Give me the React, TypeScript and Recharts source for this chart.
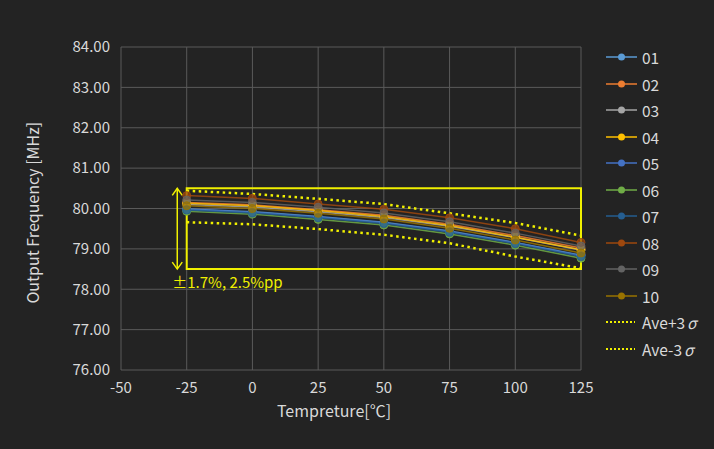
import { LineChart, Line, XAxis, YAxis, CartesianGrid, ReferenceArea, ReferenceLine } from "recharts";

// temperature points [°C]
const temps = [-25, 0, 25, 50, 75, 100, 125];

// output frequency per sample [MHz]
const s01 = [79.99, 79.92, 79.8, 79.66, 79.44, 79.16, 78.84];
const s02 = [80.15, 80.09, 79.97, 79.83, 79.61, 79.33, 79.02];
const s03 = [80.1, 80.04, 79.92, 79.78, 79.56, 79.28, 78.97];
const s04 = [80.13, 80.07, 79.95, 79.8, 79.58, 79.29, 78.98];
const s05 = [79.98, 79.91, 79.79, 79.65, 79.43, 79.15, 78.83];
const s06 = [79.93, 79.86, 79.73, 79.59, 79.37, 79.09, 78.77];
const s07 = [79.96, 79.89, 79.77, 79.63, 79.41, 79.13, 78.81];
const s08 = [80.32, 80.25, 80.11, 79.98, 79.77, 79.5, 79.16];
const s09 = [80.21, 80.15, 80.03, 79.89, 79.67, 79.39, 79.07];
const s10 = [80.07, 80.0, 79.88, 79.74, 79.51, 79.22, 78.9];
const avePlus3s = [80.44, 80.36, 80.24, 80.11, 79.88, 79.64, 79.33];
const aveMinus3s = [79.66, 79.61, 79.49, 79.35, 79.14, 78.81, 78.52];

const xTicks = [-50, -25, 0, 25, 50, 75, 100, 125];
const yTicks = [76, 77, 78, 79, 80, 81, 82, 83, 84];

const samples = [
  { key: "01", values: s01, color: "#5B9BD5" },
  { key: "02", values: s02, color: "#ED7D31" },
  { key: "03", values: s03, color: "#A5A5A5" },
  { key: "04", values: s04, color: "#FFC000" },
  { key: "05", values: s05, color: "#4472C4" },
  { key: "06", values: s06, color: "#70AD47" },
  { key: "07", values: s07, color: "#255E91" },
  { key: "08", values: s08, color: "#9E480E" },
  { key: "09", values: s09, color: "#636363" },
  { key: "10", values: s10, color: "#997300" },
];

const YELLOW = "#f0f000";
const TEXT = "#d9d9d9";

const data = temps.map((t, i) => {
  const row: Record<string, number> = { t, up: avePlus3s[i], low: aveMinus3s[i] };
  samples.forEach((s) => (row[s.key] = s.values[i]));
  return row;
});

// double-headed arrow + spread label
const SpreadArrow = (props: any) => {
  const { x1, y1, y2 } = props;
  const top = Math.min(y1, y2);
  const bottom = Math.max(y1, y2);
  return (
    <g>
      <line x1={x1} y1={top} x2={x1} y2={bottom} stroke={YELLOW} strokeWidth={1.5} />
      <polyline points={`${x1 - 5},${top + 7} ${x1},${top} ${x1 + 5},${top + 7}`} fill="none" stroke={YELLOW} strokeWidth={1.5} />
      <polyline points={`${x1 - 5},${bottom - 7} ${x1},${bottom} ${x1 + 5},${bottom - 7}`} fill="none" stroke={YELLOW} strokeWidth={1.5} />
      <text x={x1 - 5} y={bottom + 19} fill={YELLOW} fontSize={15}>
        ±1.7%, 2.5%pp
      </text>
    </g>
  );
};

export default function App() {
  return (
    <div
      style={{
        position: "absolute",
        left: 0,
        top: 0,
        width: 714,
        height: 449,
        background: "#232323",
        fontFamily: "'Noto Sans CJK JP', 'Noto Sans', sans-serif",
      }}
    >
      <LineChart width={714} height={449} data={data} margin={{ top: 47, right: 133, bottom: 49, left: 0 }}>
        <CartesianGrid stroke="#5a5a5a" strokeWidth={1} />
        <XAxis
          dataKey="t"
          type="number"
          domain={[-50, 125]}
          ticks={xTicks}
          axisLine={false}
          tickLine={false}
          height={30}
          tick={{ fill: TEXT, fontSize: 15 }}
          tickMargin={6}
          label={{ value: "Tempreture[℃]", position: "insideBottom", offset: -17, fill: TEXT, fontSize: 16, dx: -17 }}
        />
        <YAxis
          type="number"
          domain={[76, 84]}
          ticks={yTicks}
          width={121}
          axisLine={false}
          tickLine={false}
          tick={{ fill: TEXT, fontSize: 15 }}
          tickMargin={5}
          tickFormatter={(v: number) => v.toFixed(2)}
          label={{ value: "Output Frequency [MHz]", angle: -90, position: "insideLeft", offset: 33, fill: TEXT, fontSize: 16, dy: 95 }}
        />
        <ReferenceArea
          x1={-25}
          x2={125}
          y1={78.5}
          y2={80.5}
          stroke={YELLOW}
          strokeWidth={2}
          fill="none"
          fillOpacity={0}
          ifOverflow="visible"
        />
        <ReferenceLine
          segment={[
            { x: -28.6, y: 80.5 },
            { x: -28.6, y: 78.5 },
          ]}
          ifOverflow="visible"
          shape={SpreadArrow}
        />
        {samples.map((s) => (
          <Line
            key={s.key}
            dataKey={s.key}
            stroke={s.color}
            strokeWidth={1.5}
            strokeOpacity={0.85}
            dot={{ r: 4, fill: s.color, stroke: s.color, strokeWidth: 1, fillOpacity: 0.75 }}
            isAnimationActive={false}
          />
        ))}
        <Line dataKey="up" stroke={YELLOW} strokeWidth={2.5} strokeDasharray="2.5 3.5" dot={false} isAnimationActive={false} />
        <Line dataKey="low" stroke={YELLOW} strokeWidth={2.5} strokeDasharray="2.5 3.5" dot={false} isAnimationActive={false} />
      </LineChart>

      <div style={{ position: "absolute", left: 606, top: 44, color: TEXT, fontSize: 15.5 }}>
        {samples.map((s) => (
          <div key={s.key} style={{ display: "flex", alignItems: "center", height: 26.5 }}>
            <svg width={32} height={10} style={{ marginRight: 4 }}>
              <line x1={0} y1={5} x2={31} y2={5} stroke={s.color} strokeWidth={1.5} />
              <circle cx={15.5} cy={5} r={3.5} fill={s.color} />
            </svg>
            <span>{s.key}</span>
          </div>
        ))}
        {["Ave+3σ", "Ave-3σ"].map((name) => (
          <div key={name} style={{ display: "flex", alignItems: "center", height: 26.5 }}>
            <svg width={32} height={10} style={{ marginRight: 4 }}>
              <line x1={0} y1={5} x2={29} y2={5} stroke={YELLOW} strokeWidth={2} strokeDasharray="2 2" />
            </svg>
            <span>{name.replace("σ", "")}</span>
            <span style={{ fontStyle: "italic", marginLeft: 2 }}>σ</span>
          </div>
        ))}
      </div>
    </div>
  );
}
